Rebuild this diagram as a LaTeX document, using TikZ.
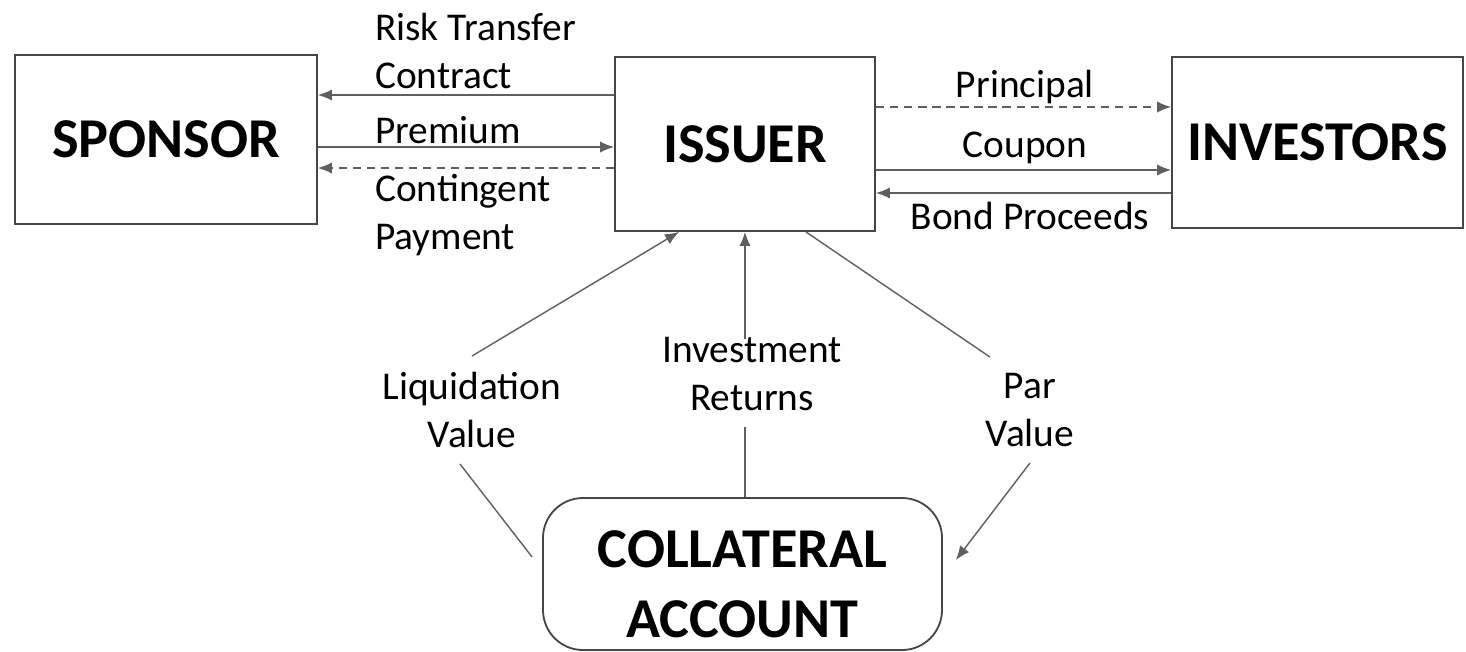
\documentclass[tikz,border=0pt]{standalone}
\usepackage{fontspec}
\setmainfont{Carlito}
\usetikzlibrary{arrows.meta,positioning}
\definecolor{boxgray}{RGB}{70,70,70}
\definecolor{linegray}{RGB}{95,95,95}

\begin{document}
\begin{tikzpicture}[
    party/.style={rectangle, draw=boxgray, line width=1.3pt, inner sep=0pt, align=center, font=\fontsize{40}{50}\selectfont\bfseries},
    account/.style={party, rounded corners=1cm},
    flowlabel/.style={inner sep=2pt, font=\fontsize{28}{34}\selectfont},
    tag/.style={flowlabel, align=center, inner sep=0.4cm},
    flow/.style={-{Latex[length=10pt,width=8pt]}, line width=1pt, draw=linegray},
    contingent/.style={flow, dash pattern=on 6pt off 4pt},
    link/.style={line width=1pt, draw=linegray}
]
\useasboundingbox (0,0) rectangle (36.65,-16.275);

\node[party, minimum width=7.55cm, minimum height=4.225cm] (sponsor) at (4.15,-3.4875) {SPONSOR};
\node[party, minimum width=6.5cm, minimum height=4.35cm] (issuer) at (18.625,-3.6) {ISSUER};
\node[party, minimum width=7.275cm, minimum height=4.275cm] (investors) at (32.9375,-3.5625) {INVESTORS};
\node[account, minimum width=9.975cm, minimum height=3.8cm] (collateral) at (18.5625,-14.35) {\rule{0pt}{1.45cm}COLLATERAL\\ACCOUNT};

% sponsor side
\node[flowlabel, anchor=west, align=left] (risk) at (9.3,-1.275) {Risk Transfer\\Contract};
\node[flowlabel, anchor=west] (premium) at (9.3,-3.25) {Premium};
\node[flowlabel, anchor=west, align=left] (payment) at (9.3,-5.375) {Contingent\\Payment};

\draw[flow] (issuer.west |- 0,-2.375) -- (sponsor.east |- 0,-2.375);
\draw[flow] (sponsor.east |- 0,-3.675) -- (issuer.west |- 0,-3.675);
\draw[contingent] (issuer.west |- 0,-4.2) -- (sponsor.east |- 0,-4.2);

% investor side
\node[flowlabel] (principal) at (25.625,-2.175) {Principal};
\node[flowlabel] (coupon) at (25.625,-3.7) {Coupon};
\node[flowlabel] (proceeds) at (25.75,-5.4) {Bond Proceeds};

\draw[contingent] (issuer.east |- 0,-2.675) -- (investors.west |- 0,-2.675);
\draw[flow] (issuer.east |- 0,-4.25) -- (investors.west |- 0,-4.25);
\draw[flow] (investors.west |- 0,-4.825) -- (issuer.east |- 0,-4.825);

% collateral account
\node[tag] (liquidation) at (11.8,-10.25) {Liquidation\\Value};
\node[tag] (returns) at (18.8,-9.35) {Investment\\Returns};
\node[tag] (par) at (25.75,-10.25) {Par\\Value};

\draw[flow] (liquidation.north) -- ([xshift=1.625cm]issuer.south west);
\draw[link] ([xshift=-0.3cm]liquidation.south) -- ([xshift=-0.25cm,yshift=0.425cm]collateral.west);
\draw[flow, shorten <=-0.45cm] (issuer.south |- returns.north) -- (issuer.south);
\draw[link] (issuer.south |- returns.south) -- (issuer.south |- collateral.north);
\draw[link] ([xshift=-1.75cm]issuer.south east) -- ([xshift=-1cm]par.north);
\draw[flow] (par.south) -- ([xshift=0.325cm,yshift=0.35cm]collateral.east);

\end{tikzpicture}
\end{document}
